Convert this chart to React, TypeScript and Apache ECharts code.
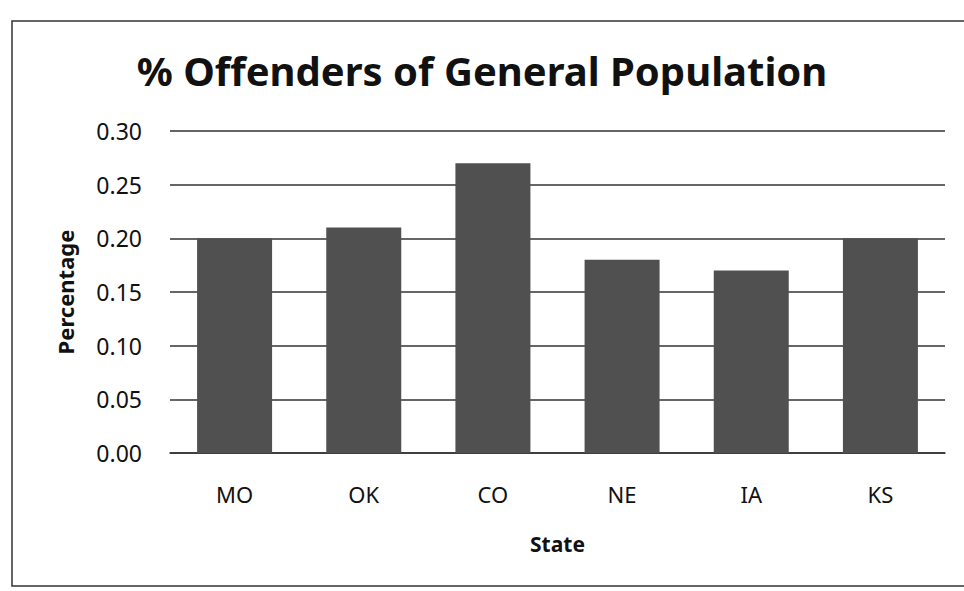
import React, { useEffect, useRef } from "react";
import * as echarts from "echarts";

const titleText = "% Offenders of General Population";
const states = ["MO", "OK", "CO", "NE", "IA", "KS"];
const percentages = [0.2, 0.21, 0.27, 0.18, 0.17, 0.2];
const yTicks = { min: 0, max: 0.3, interval: 0.05 };
const yAxisTitle = "Percentage";
const xAxisTitle = "State";

export default function App() {
  const ref = useRef<HTMLDivElement>(null);
  useEffect(() => {
    if (!ref.current) return;
    const chart = echarts.init(ref.current, null, { renderer: "svg" });
    const font = "'Noto Sans', 'DejaVu Sans', sans-serif";
    chart.setOption({
      animation: false,
      backgroundColor: "#ffffff",
      title: {
        text: titleText,
        left: "center",
        top: 45,
        textStyle: { fontFamily: font, fontWeight: "bold", fontSize: 40, color: "#111" },
      },
      graphic: [
        {
          type: "rect",
          shape: { x: 12, y: 21, width: 990, height: 565 },
          style: { fill: "none", stroke: "#333", lineWidth: 1.5 },
          silent: true,
        },
      ],
      grid: { left: 170, right: 19, top: 131, bottom: 138 },
      xAxis: {
        type: "category",
        data: states,
        name: xAxisTitle,
        nameLocation: "middle",
        nameGap: 80,
        nameTextStyle: { fontFamily: font, fontWeight: "bold", fontSize: 21, color: "#111" },
        axisLine: { show: true, lineStyle: { color: "#333", width: 1.5 } },
        axisTick: { show: false },
        axisLabel: { fontFamily: font, fontSize: 22, color: "#111", margin: 30 },
      },
      yAxis: {
        type: "value",
        min: yTicks.min,
        max: yTicks.max,
        interval: yTicks.interval,
        name: yAxisTitle,
        nameLocation: "middle",
        nameGap: 94,
        nameRotate: 90,
        nameTextStyle: { fontFamily: font, fontWeight: "bold", fontSize: 22, color: "#111" },
        axisLine: { show: false },
        axisTick: { show: false },
        axisLabel: {
          fontFamily: font,
          fontSize: 23,
          color: "#111",
          margin: 28,
          formatter: (v: number) => v.toFixed(2),
        },
        splitLine: { lineStyle: { color: "#333", width: 1.5 } },
      },
      series: [
        {
          type: "bar",
          data: percentages,
          barWidth: 75,
          itemStyle: { color: "#505050" },
        },
      ],
    });
    return () => chart.dispose();
  }, []);
  return (
    <div
      ref={ref}
      style={{ position: "fixed", left: 0, top: 0, width: 964, height: 591 }}
    />
  );
}
